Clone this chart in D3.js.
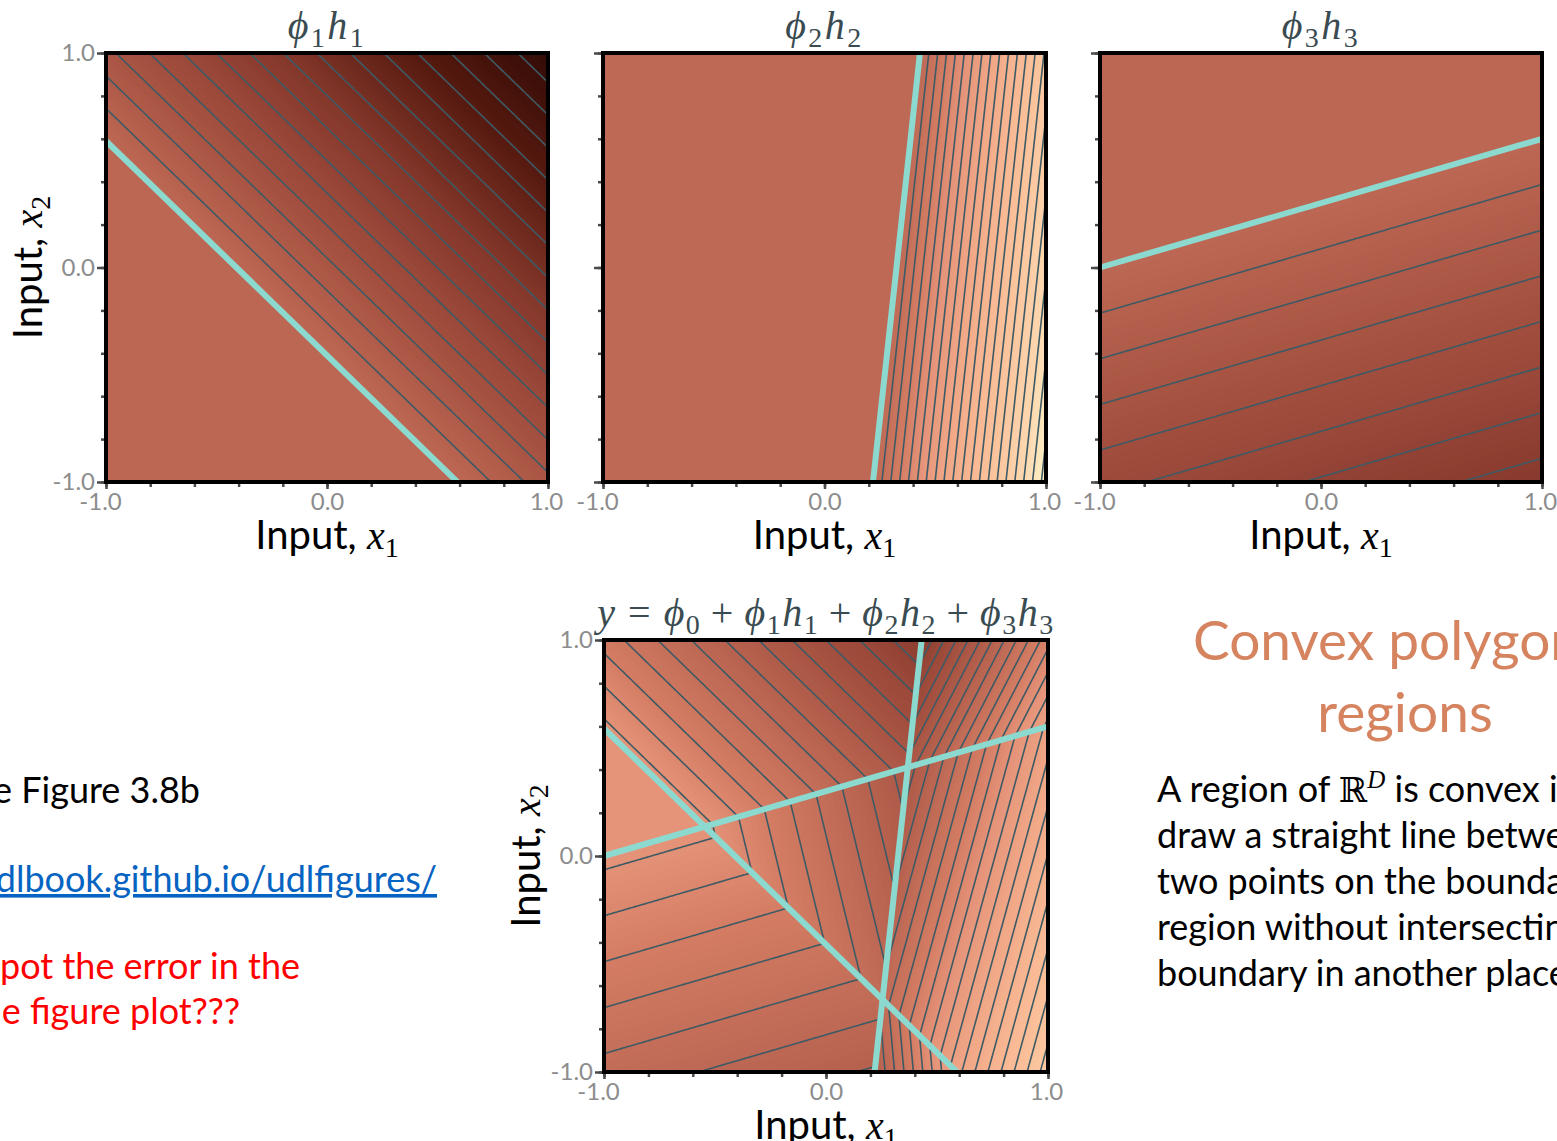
<!DOCTYPE html>
<html><head><meta charset="utf-8">
<script src="https://cdn.jsdelivr.net/npm/d3@7"></script>
<style>
body{margin:0;background:#fff;}
svg{display:block;}
</style>
</head><body>
<svg id="chart" width="1557" height="1141"></svg>
<script>
// ---------------- data ----------------
// hidden unit k: h_k = ReLU(bias_k + w1_k * x1 + w2_k * x2)
const hiddenBias = [0.41, -0.325, 0.30];
const hiddenW1   = [1.00,  1.000, 0.30];
const hiddenW2   = [1.00, -0.106, -1.00];
// output weights phi0 .. phi3
const phi = [5.3, -6.6, 25.0, -4.7];
// axis ticks
const axisTicks = [-1, -0.8, -0.6, -0.4, -0.2, 0, 0.2, 0.4, 0.6, 0.8, 1];
const majorTicks = [-1, 0, 1];
const tickLabels = ["-1.0", "0.0", "1.0"];
// colour map stops (value -> colour)
const colorStops = [-17, -12, -8, -4, 0, 3, 5.3, 8, 11, 14, 17, 20];
const colorHex = ["#2a0804", "#55190f", "#83372a", "#a24e3e", "#bd6854", "#d47d64",
                  "#e5947a", "#f0a686", "#f8b793", "#fbc69f", "#fdd8b0", "#fef8cc"];
// panel contents
const panelUnits = [[0], [1], [2], [0, 1, 2]];
const panelBias = [false, false, false, true];
const panelTitles = [
  [["ϕ","i"],["1","s"],["h","i"],["1","s"]],
  [["ϕ","i"],["2","s"],["h","i"],["2","s"]],
  [["ϕ","i"],["3","s"],["h","i"],["3","s"]],
  [["y","i"],[" = ","n"],["ϕ","i"],["0","s"],["\u2009+\u2009","n"],["ϕ","i"],["1","s"],["h","i"],["1","s"],
   ["\u2009+\u2009","n"],["ϕ","i"],["2","s"],["h","i"],["2","s"],["\u2009+\u2009","n"],["ϕ","i"],["3","s"],["h","i"],["3","s"]]
];

// ---------------- layout ----------------
const layout = [
  {x0:106, y0:53,  w:442, h:429, yTickLabels:true,  yTitle:true},
  {x0:603, y0:53,  w:443, h:429, yTickLabels:false, yTitle:false},
  {x0:1100,y0:53,  w:442, h:429, yTickLabels:false, yTitle:false},
  {x0:604, y0:640, w:444, h:432, yTickLabels:true,  yTitle:true}
];

const svg = d3.select("#chart");
svg.append("rect").attr("width",1557).attr("height",1141).attr("fill","#fff");
const defs = svg.append("defs");

const color = d3.scaleLinear().domain(colorStops).range(colorHex)
  .interpolate(d3.interpolateRgb).clamp(true);

const MATH = "'Liberation Serif', 'DejaVu Serif', serif";
const SANS = "Lato, 'Open Sans', sans-serif";
const titleColor = "#3a4b51";

function mathText(g, parts, size, color) {
  const t = g.append("text").attr("fill", color).attr("font-size", size);
  let shifted = false;
  parts.forEach(([s, kind]) => {
    const ts = t.append("tspan").text(s);
    if (kind === "i") ts.attr("font-family", MATH).attr("font-style","italic");
    else if (kind === "n") ts.attr("font-family", MATH).style("white-space","pre");
    else if (kind === "sans") ts.attr("font-family", SANS).style("white-space","pre");
    if (kind === "s") {
      ts.attr("font-family", MATH).attr("font-size", size*0.7).attr("dy", size*0.2);
      shifted = true;
    } else if (shifted) {
      ts.attr("dy", -size*0.2); shifted = false;
    }
  });
  return t;
}

function field(pi, x1, x2) {
  let v = panelBias[pi] ? phi[0] : 0;
  panelUnits[pi].forEach(k => {
    const z = hiddenBias[k] + hiddenW1[k]*x1 + hiddenW2[k]*x2;
    if (z > 0) v += phi[k+1]*z;
  });
  return v;
}

const N = 220;

layout.forEach((L, pi) => {
  const xs = d3.scaleLinear().domain([-1,1]).range([L.x0, L.x0+L.w]);
  const ys = d3.scaleLinear().domain([-1,1]).range([L.y0+L.h, L.y0]);
  const g = svg.append("g");
  const clipId = "clip"+pi;
  defs.append("clipPath").attr("id", clipId)
    .append("rect").attr("x",L.x0).attr("y",L.y0).attr("width",L.w).attr("height",L.h);

  // grid of values
  const gx = d3.scaleLinear().domain([0, N]).range([-1, 1]);
  const gy = d3.scaleLinear().domain([0, N]).range([1, -1]);
  const values = new Float64Array(N*N);
  for (let j=0;j<N;j++) for (let i=0;i<N;i++)
    values[j*N+i] = field(pi, gx(i+0.5), gy(j+0.5));
  const [vmin, vmax] = d3.extent(values);

  const proj = d3.geoTransform({point: function(x, y){
    this.stream.point(xs(gx(x)), ys(gy(y)));
  }});
  const path = d3.geoPath(proj);

  const plot = g.append("g").attr("clip-path", `url(#${clipId})`);
  plot.append("rect").attr("x",L.x0).attr("y",L.y0).attr("width",L.w).attr("height",L.h)
    .attr("fill", color(vmin));

  // filled colour bands
  const step = 0.2;
  const fillThr = d3.range(Math.ceil(vmin/step)*step, vmax, step);
  const fills = d3.contours().size([N,N]).thresholds(fillThr)(values);
  plot.append("g").selectAll("path").data(fills).join("path")
    .attr("d", path).attr("fill", d => color(d.value + step/2)).attr("stroke","none");

  // contour lines at integer levels
  let lineThr = d3.range(Math.ceil(vmin), Math.floor(vmax)+1);
  if (!panelBias[pi]) lineThr = lineThr.filter(v => v !== 0);
  const lines = d3.contours().size([N,N]).thresholds(lineThr)(values);
  plot.append("g").selectAll("path").data(lines).join("path")
    .attr("d", path).attr("fill","none").attr("stroke","#3e5a64").attr("stroke-width",1.6);

  // joint lines (where hidden units switch on)
  const joints = panelUnits[pi].map(k => {
    const a = hiddenW1[k], b = hiddenW2[k], c = hiddenBias[k];
    const ts = [-1.6, 1.6];
    if (Math.abs(b) >= Math.abs(a)) return ts.map(x1 => [x1, -(c + a*x1)/b]);
    return ts.map(x2 => [-(c + b*x2)/a, x2]);
  });
  plot.append("g").selectAll("line").data(joints).join("line")
    .attr("x1", d => xs(d[0][0])).attr("y1", d => ys(d[0][1]))
    .attr("x2", d => xs(d[1][0])).attr("y2", d => ys(d[1][1]))
    .attr("stroke","#8cd9d0").attr("stroke-width",6);

  // axes (ticks)
  const axG = g.append("g").attr("color","#4a4a4a");
  axG.append("g").attr("transform",`translate(${L.x0},0)`)
    .call(d3.axisLeft(ys).tickValues(axisTicks).tickSize(5).tickFormat(""))
    .call(s => s.select(".domain").remove());
  axG.append("g").attr("transform",`translate(0,${L.y0+L.h})`)
    .call(d3.axisBottom(xs).tickValues(axisTicks).tickSize(5).tickFormat(""))
    .call(s => s.select(".domain").remove());
  axG.append("g").attr("transform",`translate(${L.x0},0)`)
    .call(d3.axisLeft(ys).tickValues(majorTicks).tickSize(9).tickPadding(2)
      .tickFormat((d,i) => L.yTickLabels ? tickLabels[i] : ""))
    .call(s => s.select(".domain").remove());
  const xMaj = axG.append("g").attr("transform",`translate(0,${L.y0+L.h})`)
    .call(d3.axisBottom(xs).tickValues(majorTicks).tickSize(7).tickPadding(4)
      .tickFormat((d,i) => tickLabels[i]))
    .call(s => s.select(".domain").remove());
  axG.selectAll(".tick line").attr("stroke-width", 2.5);
  axG.selectAll("text").attr("font-family", SANS).attr("font-size", 24).attr("fill","#8c8c8c");
  xMaj.selectAll("text").attr("dx", d => d === -1 ? -6 : (d === 1 ? -2 : 0));

  // frame
  g.append("rect").attr("x",L.x0).attr("y",L.y0).attr("width",L.w).attr("height",L.h)
    .attr("fill","none").attr("stroke","#000").attr("stroke-width",4);

  // title
  const cx = L.x0 + L.w/2;
  mathText(g, panelTitles[pi], 40, titleColor)
    .attr("x", cx).attr("y", L.y0 - 14).attr("text-anchor","middle")
    .attr("letter-spacing", pi === 3 ? 1.5 : 2.5);

  // x label
  mathText(g, [["Input, ","sans"],["x","i"],["1","s"]], 40, "#000")
    .attr("x", cx).attr("y", L.y0 + L.h + 67).attr("text-anchor","middle");
  if (L.yTitle) {
    const cy = L.y0 + L.h/2;
    const tx = L.x0 - 64;
    mathText(g, [["Input, ","sans"],["x","i"],["2","s"]], 40, "#000")
      .attr("text-anchor","middle")
      .attr("transform", `translate(${tx},${cy}) rotate(-90)`);
  }
});

// ---------------- slide text ----------------
const txt = svg.append("g").attr("font-family", SANS);
const FS = 36;
txt.append("text").attr("x",200).attr("y",803).attr("text-anchor","end")
  .attr("font-size",FS).attr("fill","#000").text("See Figure 3.8b");
txt.append("text").attr("x",437).attr("y",892).attr("text-anchor","end")
  .attr("font-size",FS).attr("fill","#0563c1").attr("text-decoration","underline")
  .text("https://udlbook.github.io/udlfigures/");
txt.append("text").attr("x",300).attr("y",979).attr("text-anchor","end")
  .attr("font-size",FS).attr("fill","#ff0000").text("Can you spot the error in the");
txt.append("text").attr("x",240).attr("y",1024).attr("text-anchor","end")
  .attr("font-size",FS).attr("fill","#ff0000").text("in the figure plot???");

txt.append("text").attr("x",1193).attr("y",660)
  .attr("font-size",55).attr("fill","#d5845f").text("Convex polygonal");
txt.append("text").attr("x",1405).attr("y",732).attr("text-anchor","middle")
  .attr("font-size",55).attr("fill","#d5845f").text("regions");

const bodyLines = [
  null,
  "draw a straight line between any",
  "two points on the boundary of the",
  "region without intersecting the",
  "boundary in another place."
];
const bodyY = [802, 848, 894, 940, 986];
const l0 = txt.append("text").attr("x",1157).attr("y",bodyY[0]).attr("font-size",FS).attr("fill","#000");
l0.append("tspan").text("A region of ").style("white-space","pre");
l0.append("tspan").text("ℝ").attr("font-family","'DejaVu Serif', serif").attr("font-size",34);
l0.append("tspan").text("D").attr("font-family",MATH).attr("font-style","italic")
  .attr("font-size",25).attr("dy",-14);
l0.append("tspan").text(" is convex if you can").attr("dy",14).style("white-space","pre");
bodyLines.forEach((s,i) => {
  if (!s) return;
  txt.append("text").attr("x",1157).attr("y",bodyY[i]).attr("font-size",FS)
    .attr("fill","#000").text(s);
});
</script>
</body></html>
